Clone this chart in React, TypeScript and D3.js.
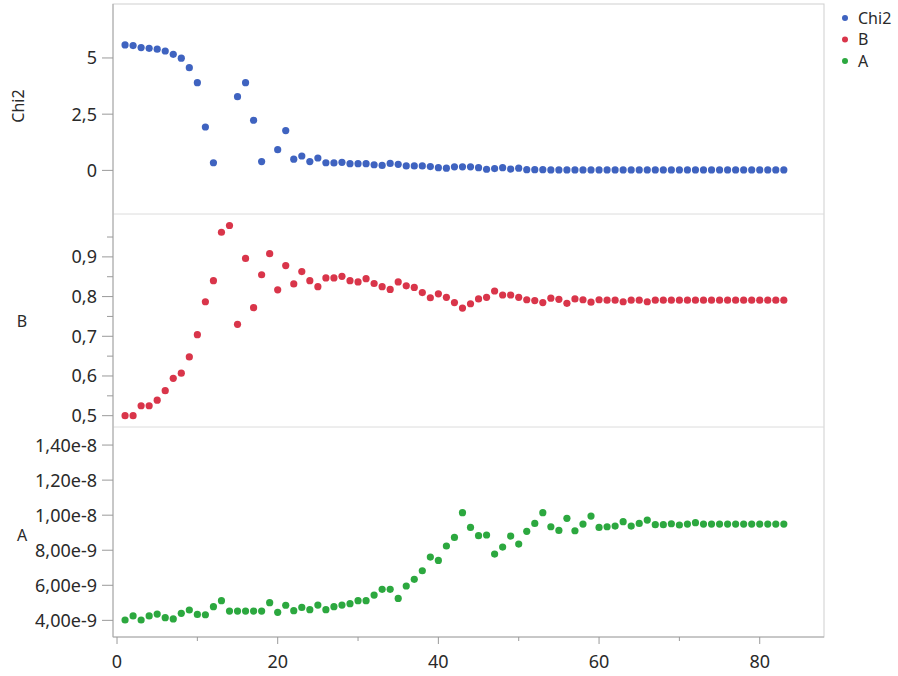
import React from "react";
import * as d3 from "d3";

// Iteration index 1..83
const iterations: number[] = d3.range(1, 84);

// Chi2 per iteration (null = not shown)
const chi2Values: (number | null)[] = [
  5.58, 5.55, 5.46, 5.43, 5.39, 5.31, 5.16, 4.99, 4.57, 3.9,
  1.93, 0.34, null, null, 3.28, 3.9, 2.23, 0.39, null, 0.92,
  1.77, 0.5, 0.64, 0.39, 0.55, 0.34, 0.33, 0.36, 0.3, 0.3,
  0.3, 0.25, 0.22, 0.31, 0.27, 0.2, 0.2, 0.2, 0.17, 0.12,
  0.1, 0.16, 0.16, 0.16, 0.12, 0.05, 0.08, 0.12, 0.06, 0.1,
  0.03, 0.03, 0.03, 0.02, 0.02, 0.02, 0.02, 0.02, 0.02, 0.02,
  0.02, 0.02, 0.02, 0.02, 0.02, 0.02, 0.02, 0.02, 0.02, 0.02,
  0.02, 0.02, 0.02, 0.02, 0.02, 0.02, 0.02, 0.02, 0.02, 0.02,
  0.02, 0.02, 0.02,
];

// Parameter B per iteration
const bValues: number[] = [
  0.5, 0.5, 0.525, 0.525, 0.539, 0.563, 0.594, 0.607, 0.648, 0.704,
  0.787, 0.84, 0.962, 0.979, 0.73, 0.896, 0.772, 0.855, 0.908, 0.817,
  0.878, 0.832, 0.863, 0.84, 0.825, 0.847, 0.847, 0.851, 0.84, 0.837,
  0.845, 0.833, 0.825, 0.818, 0.837, 0.827, 0.823, 0.81, 0.797, 0.807,
  0.798, 0.785, 0.771, 0.782, 0.794, 0.798, 0.814, 0.804, 0.804, 0.798,
  0.792, 0.79, 0.785, 0.796, 0.793, 0.783, 0.794, 0.792, 0.786, 0.792,
  0.791, 0.791, 0.787, 0.791, 0.791, 0.787, 0.791, 0.791, 0.791, 0.791,
  0.791, 0.791, 0.791, 0.791, 0.791, 0.791, 0.791, 0.791, 0.791, 0.791,
  0.791, 0.791, 0.791,
];

// Parameter A per iteration, in units of 1e-9
const aValuesE9: number[] = [
  4.02, 4.25, 4.02, 4.25, 4.36, 4.15, 4.08, 4.4, 4.59, 4.34,
  4.32, 4.78, 5.12, 4.53, 4.53, 4.53, 4.53, 4.53, 5.01, 4.46,
  4.86, 4.55, 4.74, 4.61, 4.87, 4.61, 4.78, 4.87, 4.95, 5.12,
  5.12, 5.44, 5.77, 5.77, 5.25, 5.96, 6.34, 6.83, 7.61, 7.42,
  8.24, 8.73, 10.14, 9.3, 8.83, 8.87, 7.78, 8.18, 8.81, 8.35,
  9.08, 9.53, 10.14, 9.34, 9.13, 9.82, 9.11, 9.49, 9.95, 9.3,
  9.34, 9.38, 9.63, 9.38, 9.53, 9.72, 9.46, 9.46, 9.51, 9.44,
  9.49, 9.57, 9.49, 9.49, 9.49, 9.49, 9.49, 9.49, 9.49, 9.49,
  9.49, 9.49, 9.49,
];

const xMajorTicks = [0, 20, 40, 60, 80];
const xMinorTicks = [10, 30, 50, 70];
const chi2Ticks = [0, 2.5, 5];
const chi2TickLabels = ["0", "2,5", "5"];
const bTicks = [0.5, 0.6, 0.7, 0.8, 0.9];
const bTickLabels = ["0,5", "0,6", "0,7", "0,8", "0,9"];
const bMinorTicks = [0.55, 0.65, 0.75, 0.85, 0.95];
const aTicks = [4e-9, 6e-9, 8e-9, 1e-8, 1.2e-8, 1.4e-8];
const aTickLabels = ["4,00e-9", "6,00e-9", "8,00e-9", "1,00e-8", "1,20e-8", "1,40e-8"];

const seriesNames = ["Chi2", "B", "A"];
const seriesColors = ["#3F63C0", "#D9354A", "#2CA83F"];

const FONT = "'Noto Sans', 'DejaVu Sans', sans-serif";
const TEXT = "#2a2a2a";

const left = 113;
const right = 824;
const top = 4;
const sep1 = 214;
const sep2 = 427;
const bottom = 637;

export default function App() {
  const x = d3.scaleLinear().domain([-0.5, 88]).range([left, right]);
  const yChi = d3.scaleLinear().domain([-1.94, 7.4]).range([sep1, top]);
  const yB = d3.scaleLinear().domain([0.4715, 1.008]).range([sep2, sep1]);
  const yA = d3.scaleLinear().domain([3.05e-9, 1.503e-8]).range([bottom, sep2]);

  const chiPts = iterations
    .map((it, i) => ({ it, v: chi2Values[i] }))
    .filter((d) => d.v !== null) as { it: number; v: number }[];
  const bPts = iterations.map((it, i) => ({ it, v: bValues[i] }));
  const aPts = iterations.map((it, i) => ({ it, v: aValuesE9[i] * 1e-9 }));

  const yAxis = (
    scale: d3.ScaleLinear<number, number>,
    ticks: number[],
    labels: string[],
    minor: number[]
  ) => (
    <g>
      {ticks.map((t, i) => (
        <g key={"t" + i}>
          <line x1={left - 11} x2={left} y1={scale(t)} y2={scale(t)} stroke="#9a9a9a" />
          <text
            x={left - 16}
            y={scale(t)}
            dy="0.36em"
            textAnchor="end"
            fontSize={18}
            fontFamily={FONT}
            fill={TEXT}
          >
            {labels[i]}
          </text>
        </g>
      ))}
      {minor.map((t, i) => (
        <line key={"m" + i} x1={left - 6} x2={left} y1={scale(t)} y2={scale(t)} stroke="#9a9a9a" />
      ))}
    </g>
  );

  const dots = (pts: { it: number; v: number }[], scale: d3.ScaleLinear<number, number>, color: string) =>
    pts.map((d, i) => <circle key={i} cx={x(d.it)} cy={scale(d.v)} r={3.6} fill={color} />);

  return (
    <div style={{ position: "absolute", left: 0, top: 0 }}>
      <svg width={898} height={676} style={{ display: "block", background: "#fff" }}>
        {/* frame and panel separators */}
        <rect x={left} y={top} width={right - left} height={bottom - top} fill="none" stroke="#cfcfcf" />
        <line x1={left} x2={right} y1={sep1} y2={sep1} stroke="#dcdcdc" />
        <line x1={left} x2={right} y1={sep2} y2={sep2} stroke="#dcdcdc" />
        <line x1={left} x2={left} y1={top} y2={bottom} stroke="#a8a8a8" />
        <line x1={left} x2={right} y1={bottom} y2={bottom} stroke="#a8a8a8" />

        {/* y axes */}
        {yAxis(yChi, chi2Ticks, chi2TickLabels, [])}
        {yAxis(yB, bTicks, bTickLabels, bMinorTicks)}
        {yAxis(yA, aTicks, aTickLabels, [])}

        {/* x axis */}
        {xMajorTicks.map((t) => (
          <g key={"x" + t}>
            <line x1={x(t)} x2={x(t)} y1={bottom} y2={bottom + 7} stroke="#9a9a9a" />
            <text x={x(t)} y={bottom + 31} textAnchor="middle" fontSize={18} fontFamily={FONT} fill={TEXT}>
              {t}
            </text>
          </g>
        ))}
        {xMinorTicks.map((t) => (
          <line key={"xm" + t} x1={x(t)} x2={x(t)} y1={bottom} y2={bottom + 4} stroke="#9a9a9a" />
        ))}

        {/* axis titles */}
        <text
          transform={`translate(24, 106) rotate(-90)`}
          textAnchor="middle"
          fontSize={16}
          fontFamily={FONT}
          fill={TEXT}
        >
          Chi2
        </text>
        <text x={22} y={321} dy="0.36em" textAnchor="middle" fontSize={16} fontFamily={FONT} fill={TEXT}>
          B
        </text>
        <text x={22} y={535} dy="0.36em" textAnchor="middle" fontSize={16} fontFamily={FONT} fill={TEXT}>
          A
        </text>

        {/* points */}
        <g>{dots(chiPts, yChi, seriesColors[0])}</g>
        <g>{dots(bPts, yB, seriesColors[1])}</g>
        <g>{dots(aPts, yA, seriesColors[2])}</g>

        {/* legend */}
        {seriesNames.map((name, i) => (
          <g key={name} transform={`translate(845, ${18 + i * 21.5})`}>
            <circle cx={0} cy={0} r={3} fill={seriesColors[i]} />
            <text x={13} y={0} dy="0.36em" fontSize={16} fontFamily={FONT} fill={TEXT}>
              {name}
            </text>
          </g>
        ))}
      </svg>
    </div>
  );
}
